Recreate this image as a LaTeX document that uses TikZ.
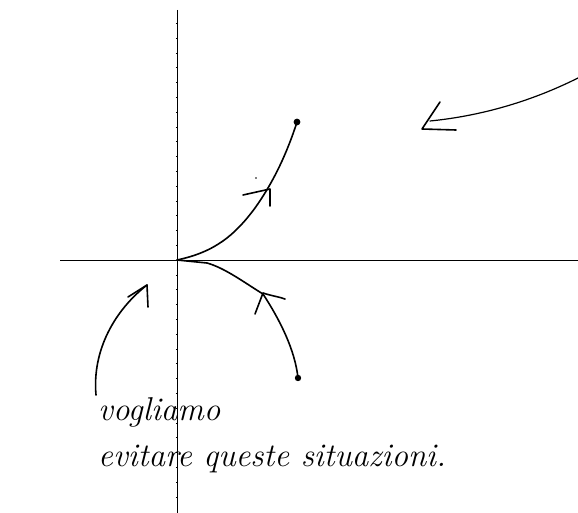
\documentclass[tikz,border=0pt]{standalone}
\begin{document}
\begin{tikzpicture}[x=1pt,y=-1pt,
  axis/.style={line width=1pt,black},
  pen/.style={line width=1.6pt,black,line cap=round,line join=round},
  hand/.style={font=\itshape\fontsize{33}{36}\selectfont,inner sep=0pt,anchor=base west}]
\useasboundingbox (0,0) rectangle (578,513);
% axes
\coordinate (O) at (177,260);
\coordinate (xl) at (60,260);
\coordinate (xr) at (578,260);
\coordinate (yt) at (177,10);
\coordinate (yb) at (177,513);
\draw[axis] (xl) -- (xr);
\draw[axis] (yt) -- (yb);
\foreach \k in {-16,...,16} {\draw[line width=0.4pt] (175.8,260+14.8*\k) -- (178.2,260+14.8*\k);}
% upper trajectory
\coordinate (P1) at (297,122);
\draw[pen] (O) .. controls (215,252) and (235,235) .. (255,208) .. controls (275,180) and (288,150) .. (P1);
\fill (P1) circle (3.4);
\coordinate (a1) at (270,189);
\coordinate (a1l) at (243,195);
\coordinate (a1b) at (270,206);
\draw[pen] (a1l) -- (a1) -- (a1b);
\fill (256,178) circle (0.9);
% lower trajectory
\coordinate (P2) at (298,378);
\draw[pen] (O) -- (207,263) .. controls (225,268) and (245,283) .. (263,294) .. controls (280,320) and (295,350) .. (P2);
\fill (P2) circle (3.2);
\coordinate (a2) at (263,293);
\draw[pen] (255,314) -- (a2) .. controls (272,296) and (280,297) .. (285,299);
% left arrow
\coordinate (L0) at (96,395);
\coordinate (L1) at (147,285);
\draw[pen] (L0) .. controls (92,350) and (115,310) .. (L1);
\draw[pen] (128,297) -- (L1) -- (148,307);
% top right arrow
\coordinate (R0) at (578,78);
\coordinate (R1) at (430,121);
\draw[pen,line width=1.2pt] (R0) .. controls (530,102) and (480,116) .. (R1);
\draw[pen] (440,102) -- (422,129) -- (456,130);
% text
\node[hand] (t1) at (98,420) {vogliamo};
\node[hand] (t2) at (98,466) {evitare queste situazioni.};
\end{tikzpicture}
\end{document}
